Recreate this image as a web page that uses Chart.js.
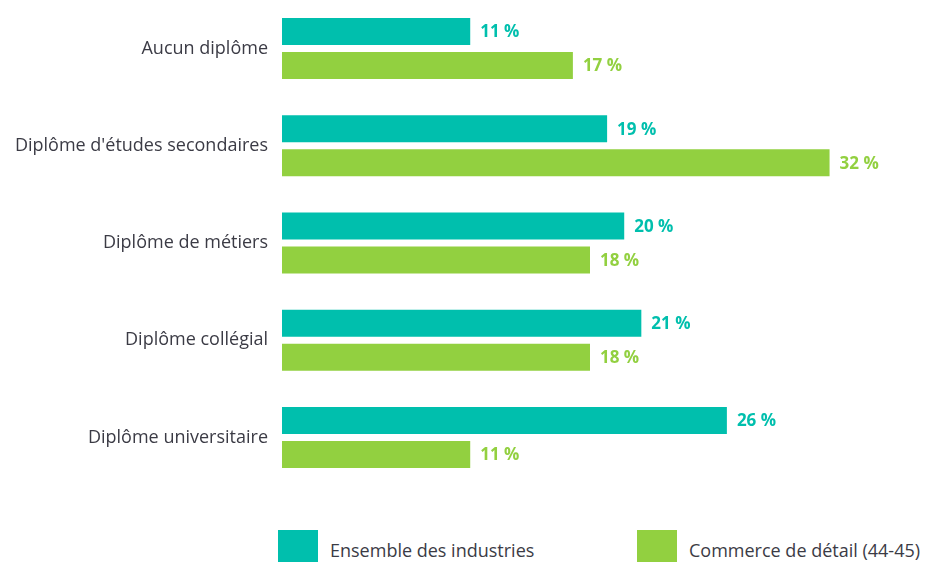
<!DOCTYPE html>
<html>
<head>
<meta charset="utf-8">
<script src="https://cdn.jsdelivr.net/npm/chart.js@4"></script>
<style>
    body { margin: 0; background: #fff; overflow: hidden; font-family: "Open Sans", sans-serif; }
    #wrap { position: absolute; left: 0; top: 0; width: 930px; height: 486px; }
    #legende { position: absolute; left: 278px; top: 530px; display: flex; color: #3b3b45; font-size: 18px; white-space: nowrap; }
    .item { display: flex; align-items: center; width: 359px; }
    .carre { width: 40px; height: 40px; margin-right: 12px; }
</style>
</head>
<body>
<div id="wrap"><canvas id="chartDiplome" width="930" height="486"></canvas></div>
<div id="legende"></div>

<script>
var categories = ['Aucun diplôme', 'Diplôme d\'études secondaires', 'Diplôme de métiers', 'Diplôme collégial', 'Diplôme universitaire'];
var ensembleIndustries = [11, 19, 20, 21, 26];
var commerceDetail = [17, 32, 18, 18, 11];
var nomsSeries = ['Ensemble des industries', 'Commerce de détail (44-45)'];
var couleurs = ['#00bfad', '#92d040'];

// étiquettes "xx %" au bout des barres
var etiquettes = {
    id: 'etiquettes',
    afterDatasetsDraw: function (chart) {
        var ctx = chart.ctx;
        chart.data.datasets.forEach(function (ds, i) {
            chart.getDatasetMeta(i).data.forEach(function (bar, j) {
                ctx.save();
                ctx.font = 'bold 17px "Open Sans"';
                ctx.fillStyle = ds.backgroundColor;
                ctx.textBaseline = 'middle';
                ctx.fillText(ds.data[j] + ' %', bar.x + 10, bar.y + 1);
                ctx.restore();
            });
        });
    }
};

var ctx = document.getElementById('chartDiplome').getContext('2d');
var chart = new Chart(ctx, {
    type: 'bar',
    data: {
        labels: categories,
        datasets: [{
            label: nomsSeries[0],
            backgroundColor: couleurs[0],
            data: ensembleIndustries
        }, {
            label: nomsSeries[1],
            backgroundColor: couleurs[1],
            data: commerceDetail
        }]
    },
    options: {
        indexAxis: 'y',
        responsive: false,
        animation: false,
        categoryPercentage: 0.70,
        barPercentage: 0.794,
        layout: { padding: { top: 0, right: 32, bottom: 0, left: 0 } },
        plugins: {
            legend: { display: false },
            tooltip: { enabled: false }
        },
        scales: {
            x: { display: false, min: 0, max: 36 },
            y: {
                grid: { display: false, drawTicks: false },
                border: { display: false },
                ticks: {
                    color: '#3b3b45',
                    padding: 14,
                    font: { family: '"Open Sans"', size: 18 }
                },
                afterFit: function (scale) {
                    scale.width = 282;
                    // pas de marge en haut/bas pour les étiquettes
                    scale.paddingTop = 0;
                    scale.paddingBottom = 0;
                }
            }
        }
    },
    plugins: [etiquettes]
});

// légende HTML sous le graphique
var legende = document.getElementById('legende');
chart.data.datasets.forEach(function (ds) {
    var item = document.createElement('div');
    item.className = 'item';
    item.innerHTML = '<div class="carre" style="background:' + ds.backgroundColor + '"></div><span>' + ds.label + '</span>';
    legende.appendChild(item);
});
</script>
</body>
</html>
